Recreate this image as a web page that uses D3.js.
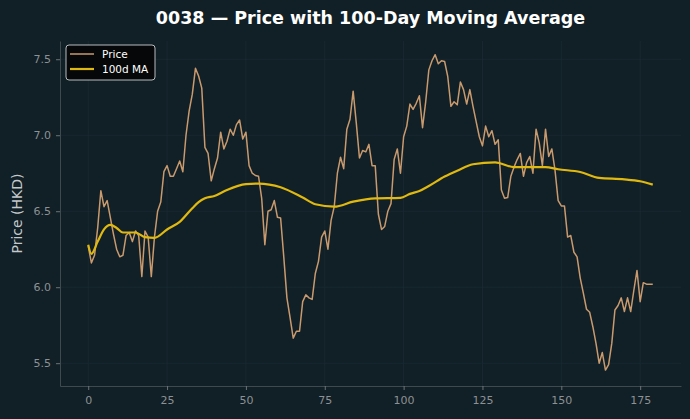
<!DOCTYPE html>
<html>
<head>
<meta charset="utf-8">
<script src="https://cdn.jsdelivr.net/npm/d3@7"></script>
<style>
  body { margin: 0; background: #111f26; }
  svg { display: block; font-family: "DejaVu Sans", sans-serif; }
</style>
</head>
<body>
<div id="chart"></div>
<script>
// daily closing prices (HKD), day 0..179
var price = [
  6.27, 6.16, 6.21, 6.39, 6.635, 6.53, 6.57, 6.46, 6.35, 6.25,
  6.20, 6.21, 6.34, 6.36, 6.30, 6.37, 6.34, 6.07, 6.37, 6.33,
  6.07, 6.33, 6.50, 6.56, 6.76, 6.80, 6.73, 6.73, 6.78, 6.83,
  6.76, 7.00, 7.16, 7.27, 7.44, 7.39, 7.31, 6.92, 6.88, 6.70,
  6.78, 6.85, 7.02, 6.91, 6.96, 7.04, 7.00, 7.07, 7.10, 6.975,
  7.02, 6.80, 6.75, 6.735, 6.73, 6.585, 6.28, 6.50, 6.51, 6.57,
  6.46, 6.455, 6.20, 5.93, 5.80, 5.665, 5.71, 5.71, 5.905, 5.95,
  5.93, 5.92, 6.09, 6.17, 6.33, 6.37, 6.25, 6.44, 6.53, 6.75,
  6.855, 6.78, 7.04, 7.105, 7.29, 7.08, 6.85, 6.90, 6.89, 6.94,
  6.80, 6.80, 6.48, 6.38, 6.40, 6.50, 6.55, 6.84, 6.91, 6.75,
  6.99, 7.06, 7.205, 7.17, 7.21, 7.26, 7.05, 7.22, 7.43, 7.49,
  7.53, 7.47, 7.49, 7.485, 7.385, 7.19, 7.22, 7.20, 7.35, 7.30,
  7.205, 7.30, 7.19, 7.09, 6.99, 6.93, 7.06, 6.99, 7.03, 6.94,
  6.97, 6.64, 6.585, 6.59, 6.73, 6.79, 6.84, 6.88, 6.73, 6.82,
  6.86, 6.75, 7.04, 6.95, 6.80, 7.04, 6.86, 6.91, 6.77, 6.57,
  6.535, 6.535, 6.33, 6.34, 6.23, 6.20, 6.06, 5.96, 5.855, 5.835,
  5.74, 5.63, 5.50, 5.57, 5.455, 5.49, 5.63, 5.85, 5.88, 5.93,
  5.84, 5.93, 5.84, 5.98, 6.11, 5.905, 6.03, 6.02, 6.02, 6.02
];

// 100-day moving average, read at these days
var maDays = [0, 1, 3, 5, 7, 9, 11, 15, 18, 21, 25, 29, 33, 35, 37, 40, 44, 50, 54, 61,
              68, 72, 78, 84, 91, 99, 102, 105, 108, 113, 117, 122, 129, 135, 145, 149, 156, 162, 170, 175, 179];
var maValues = [6.28, 6.22, 6.30, 6.38, 6.41, 6.39, 6.36, 6.36, 6.33, 6.325, 6.38, 6.43, 6.52, 6.56, 6.585, 6.60, 6.64, 6.678, 6.682, 6.658,
                6.59, 6.546, 6.53, 6.563, 6.585, 6.588, 6.614, 6.633, 6.666, 6.728, 6.767, 6.809, 6.822, 6.79, 6.79, 6.776, 6.758, 6.719, 6.71, 6.697, 6.675];

var xTicks = [0, 25, 50, 75, 100, 125, 150, 175];
var yTicks = [5.5, 6.0, 6.5, 7.0, 7.5];

var W = 690, H = 419;
var margin = {top: 41, right: 9, bottom: 33, left: 60};
var width = W - margin.left - margin.right,
    height = H - margin.top - margin.bottom;

var svg = d3.select("#chart")
  .append("svg")
    .attr("width", W)
    .attr("height", H);

svg.append("rect")
  .attr("width", W)
  .attr("height", H)
  .attr("fill", "#111f26");

var g = svg.append("g")
  .attr("transform", "translate(" + margin.left + "," + margin.top + ")");

var x = d3.scaleLinear()
  .domain([-8.95, 187.95])
  .range([0, width]);

var y = d3.scaleLinear()
  .domain([5.35, 7.62])
  .range([height, 0]);

// grid
g.append("g")
  .selectAll("line")
  .data(xTicks)
  .enter()
  .append("line")
    .attr("x1", function(d) { return x(d); })
    .attr("x2", function(d) { return x(d); })
    .attr("y1", 0)
    .attr("y2", height)
    .attr("stroke", "#1a2b33")
    .attr("stroke-width", 0.8);

g.append("g")
  .selectAll("line")
  .data(yTicks)
  .enter()
  .append("line")
    .attr("x1", 0)
    .attr("x2", width)
    .attr("y1", function(d) { return y(d); })
    .attr("y2", function(d) { return y(d); })
    .attr("stroke", "#1a2b33")
    .attr("stroke-width", 0.8);

// axes
var xAxis = g.append("g")
  .attr("transform", "translate(0," + height + ")")
  .call(d3.axisBottom(x).tickValues(xTicks).tickSize(4).tickPadding(6).tickSizeOuter(0));

var yAxis = g.append("g")
  .call(d3.axisLeft(y).tickValues(yTicks).tickFormat(d3.format(".1f")).tickSize(4).tickPadding(5).tickSizeOuter(0));

[xAxis, yAxis].forEach(function(a) {
  a.select(".domain").attr("stroke", "#3f4a4f").attr("stroke-width", 1);
  a.selectAll(".tick line").attr("stroke", "#6b7478");
  a.selectAll(".tick text")
    .attr("fill", "#8c9194")
    .style("font-size", "11px")
    .style("font-family", "DejaVu Sans, sans-serif");
});

// lines
var priceLine = d3.line()
  .x(function(d, i) { return x(i); })
  .y(function(d) { return y(d); });

g.append("path")
  .datum(price)
  .attr("fill", "none")
  .attr("stroke", "#c89a6e")
  .attr("stroke-width", 1.5)
  .attr("stroke-linejoin", "round")
  .attr("d", priceLine);

var maLine = d3.line()
  .x(function(d) { return x(d[0]); })
  .y(function(d) { return y(d[1]); })
  .curve(d3.curveMonotoneX);

g.append("path")
  .datum(maDays.map(function(d, i) { return [d, maValues[i]]; }))
  .attr("fill", "none")
  .attr("stroke", "#e0b910")
  .attr("stroke-width", 2.2)
  .attr("d", maLine);

// title
svg.append("text")
  .attr("x", margin.left + width / 2)
  .attr("y", 24)
  .attr("text-anchor", "middle")
  .attr("fill", "#ffffff")
  .style("font-size", "17.5px")
  .style("font-weight", "bold")
  .text("0038 \u2014 Price with 100-Day Moving Average");

// y label
svg.append("text")
  .attr("transform", "rotate(-90)")
  .attr("x", -(margin.top + height / 2))
  .attr("y", 22)
  .attr("text-anchor", "middle")
  .attr("fill", "#c4c8cb")
  .style("font-size", "14px")
  .text("Price (HKD)");

// legend
var legend = g.append("g")
  .attr("transform", "translate(6,4)");

legend.append("rect")
  .attr("width", 89)
  .attr("height", 35)
  .attr("rx", 3)
  .attr("fill", "#050708")
  .attr("stroke", "#b9bdbf")
  .attr("stroke-width", 1);

var items = [["Price", "#c89a6e", 1.5], ["100d MA", "#e0b910", 2.2]];
items.forEach(function(it, i) {
  legend.append("line")
    .attr("x1", 4).attr("x2", 28)
    .attr("y1", 9 + i * 15).attr("y2", 9 + i * 15)
    .attr("stroke", it[1])
    .attr("stroke-width", it[2]);
  legend.append("text")
    .attr("x", 36)
    .attr("y", 13 + i * 15)
    .attr("fill", "#ffffff")
    .style("font-size", "10.5px")
    .text(it[0]);
});
</script>
</body>
</html>
